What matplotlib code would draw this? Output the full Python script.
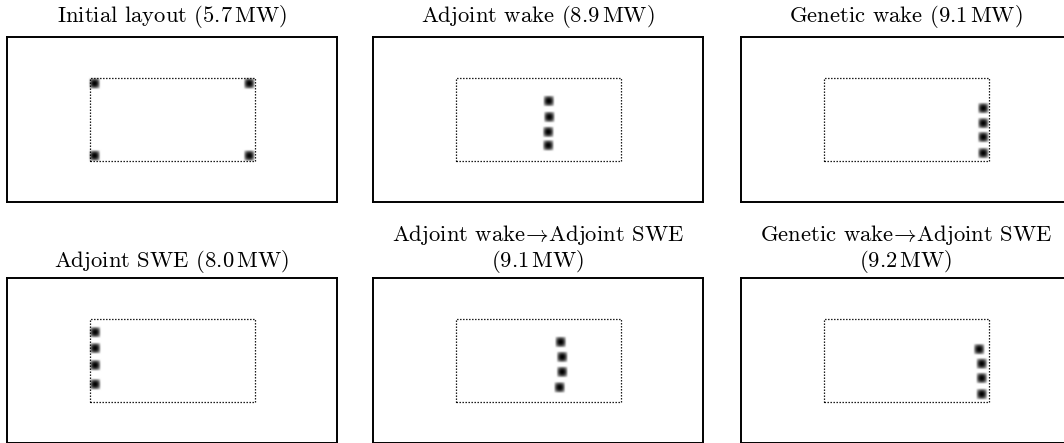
import numpy as np
import matplotlib
matplotlib.use("Agg")
import matplotlib.pyplot as plt
from matplotlib.patches import Rectangle

plt.rcParams['font.family'] = 'serif'
plt.rcParams['font.serif'] = ['cmr10']
plt.rcParams['mathtext.fontset'] = 'cm'
plt.rcParams['axes.formatter.use_mathtext'] = True

# domain and turbine site (m)
domain = [640, 320]
site = [160, 80, 320, 160]   # x0, y0, width, height
turbine_radius = 13.0

names = ["Initial layout", "Adjoint wake", "Genetic wake",
         "Adjoint SWE", "Adjoint wake$\\!\\rightarrow\\!$Adjoint SWE\n",
         "Genetic wake$\\!\\rightarrow\\!$Adjoint SWE\n"]
power_mw = [5.7, 8.9, 9.1, 8.0, 9.1, 9.2]

x_initial = [170, 470, 170, 470]
y_initial = [90, 90, 230, 230]
x_adj_wake = [341, 342, 340, 340]
y_adj_wake = [196, 165, 136, 110]
x_gen_wake = [470, 470, 470, 470]
y_gen_wake = [182, 153, 126, 95]
x_adj_swe = [171, 171, 171, 171]
y_adj_swe = [215, 184, 151, 114]
x_adj_wake_swe = [364, 367, 367, 362]
y_adj_wake_swe = [196, 167, 138, 108]
x_gen_wake_swe = [462, 467, 467, 467]
y_gen_wake_swe = [182, 154, 126, 95]

layouts = [(x_initial, y_initial), (x_adj_wake, y_adj_wake),
           (x_gen_wake, y_gen_wake), (x_adj_swe, y_adj_swe),
           (x_adj_wake_swe, y_adj_wake_swe), (x_gen_wake_swe, y_gen_wake_swe)]


def bump(d, r):
    out = np.zeros_like(d)
    m = np.abs(d) < r
    out[m] = np.exp(1 - 1 / (1 - (d[m] / r) ** 2))
    return out


def friction(xs, ys):
    gx = np.arange(0, domain[0], 1.0) + 0.5
    gy = np.arange(0, domain[1], 1.0) + 0.5
    X, Y = np.meshgrid(gx, gy)
    f = np.zeros_like(X)
    for tx, ty in zip(xs, ys):
        f += bump(X - tx, turbine_radius) * bump(Y - ty, turbine_radius)
    return f


W, H = 1064, 443
fig = plt.figure(figsize=(W / 100, H / 100), dpi=100)

lefts = [7, 373, 741]
tops = [37, 278]
pads = [10.5, 8]
aw, ah = 330, 165

for i, (name, p, (xs, ys)) in enumerate(zip(names, power_mw, layouts)):
    row, col = divmod(i, 3)
    ax = fig.add_axes([lefts[col] / W, 1 - (tops[row] + ah) / H, aw / W, ah / H])
    f = friction(xs, ys)
    ax.imshow(f, origin='lower', extent=[0, domain[0], 0, domain[1]],
              cmap='gray_r', vmin=0, vmax=1.0, interpolation='bilinear')
    ax.add_patch(Rectangle((site[0], site[1]), site[2], site[3], fill=False,
                           ec='black', lw=0.9, ls=(0, (1.1, 1.3))))
    ax.set_xlim(0, domain[0])
    ax.set_ylim(0, domain[1])
    ax.set_xticks([])
    ax.set_yticks([])
    for s in ax.spines.values():
        s.set_linewidth(1.4)
    sep = "" if name.endswith("\n") else " "
    ax.set_title(f"{name}{sep}({p:.1f}$\\,$MW)", fontsize=16.3, pad=pads[row],
                 linespacing=1.05)

fig.savefig("out.png", dpi=100)
